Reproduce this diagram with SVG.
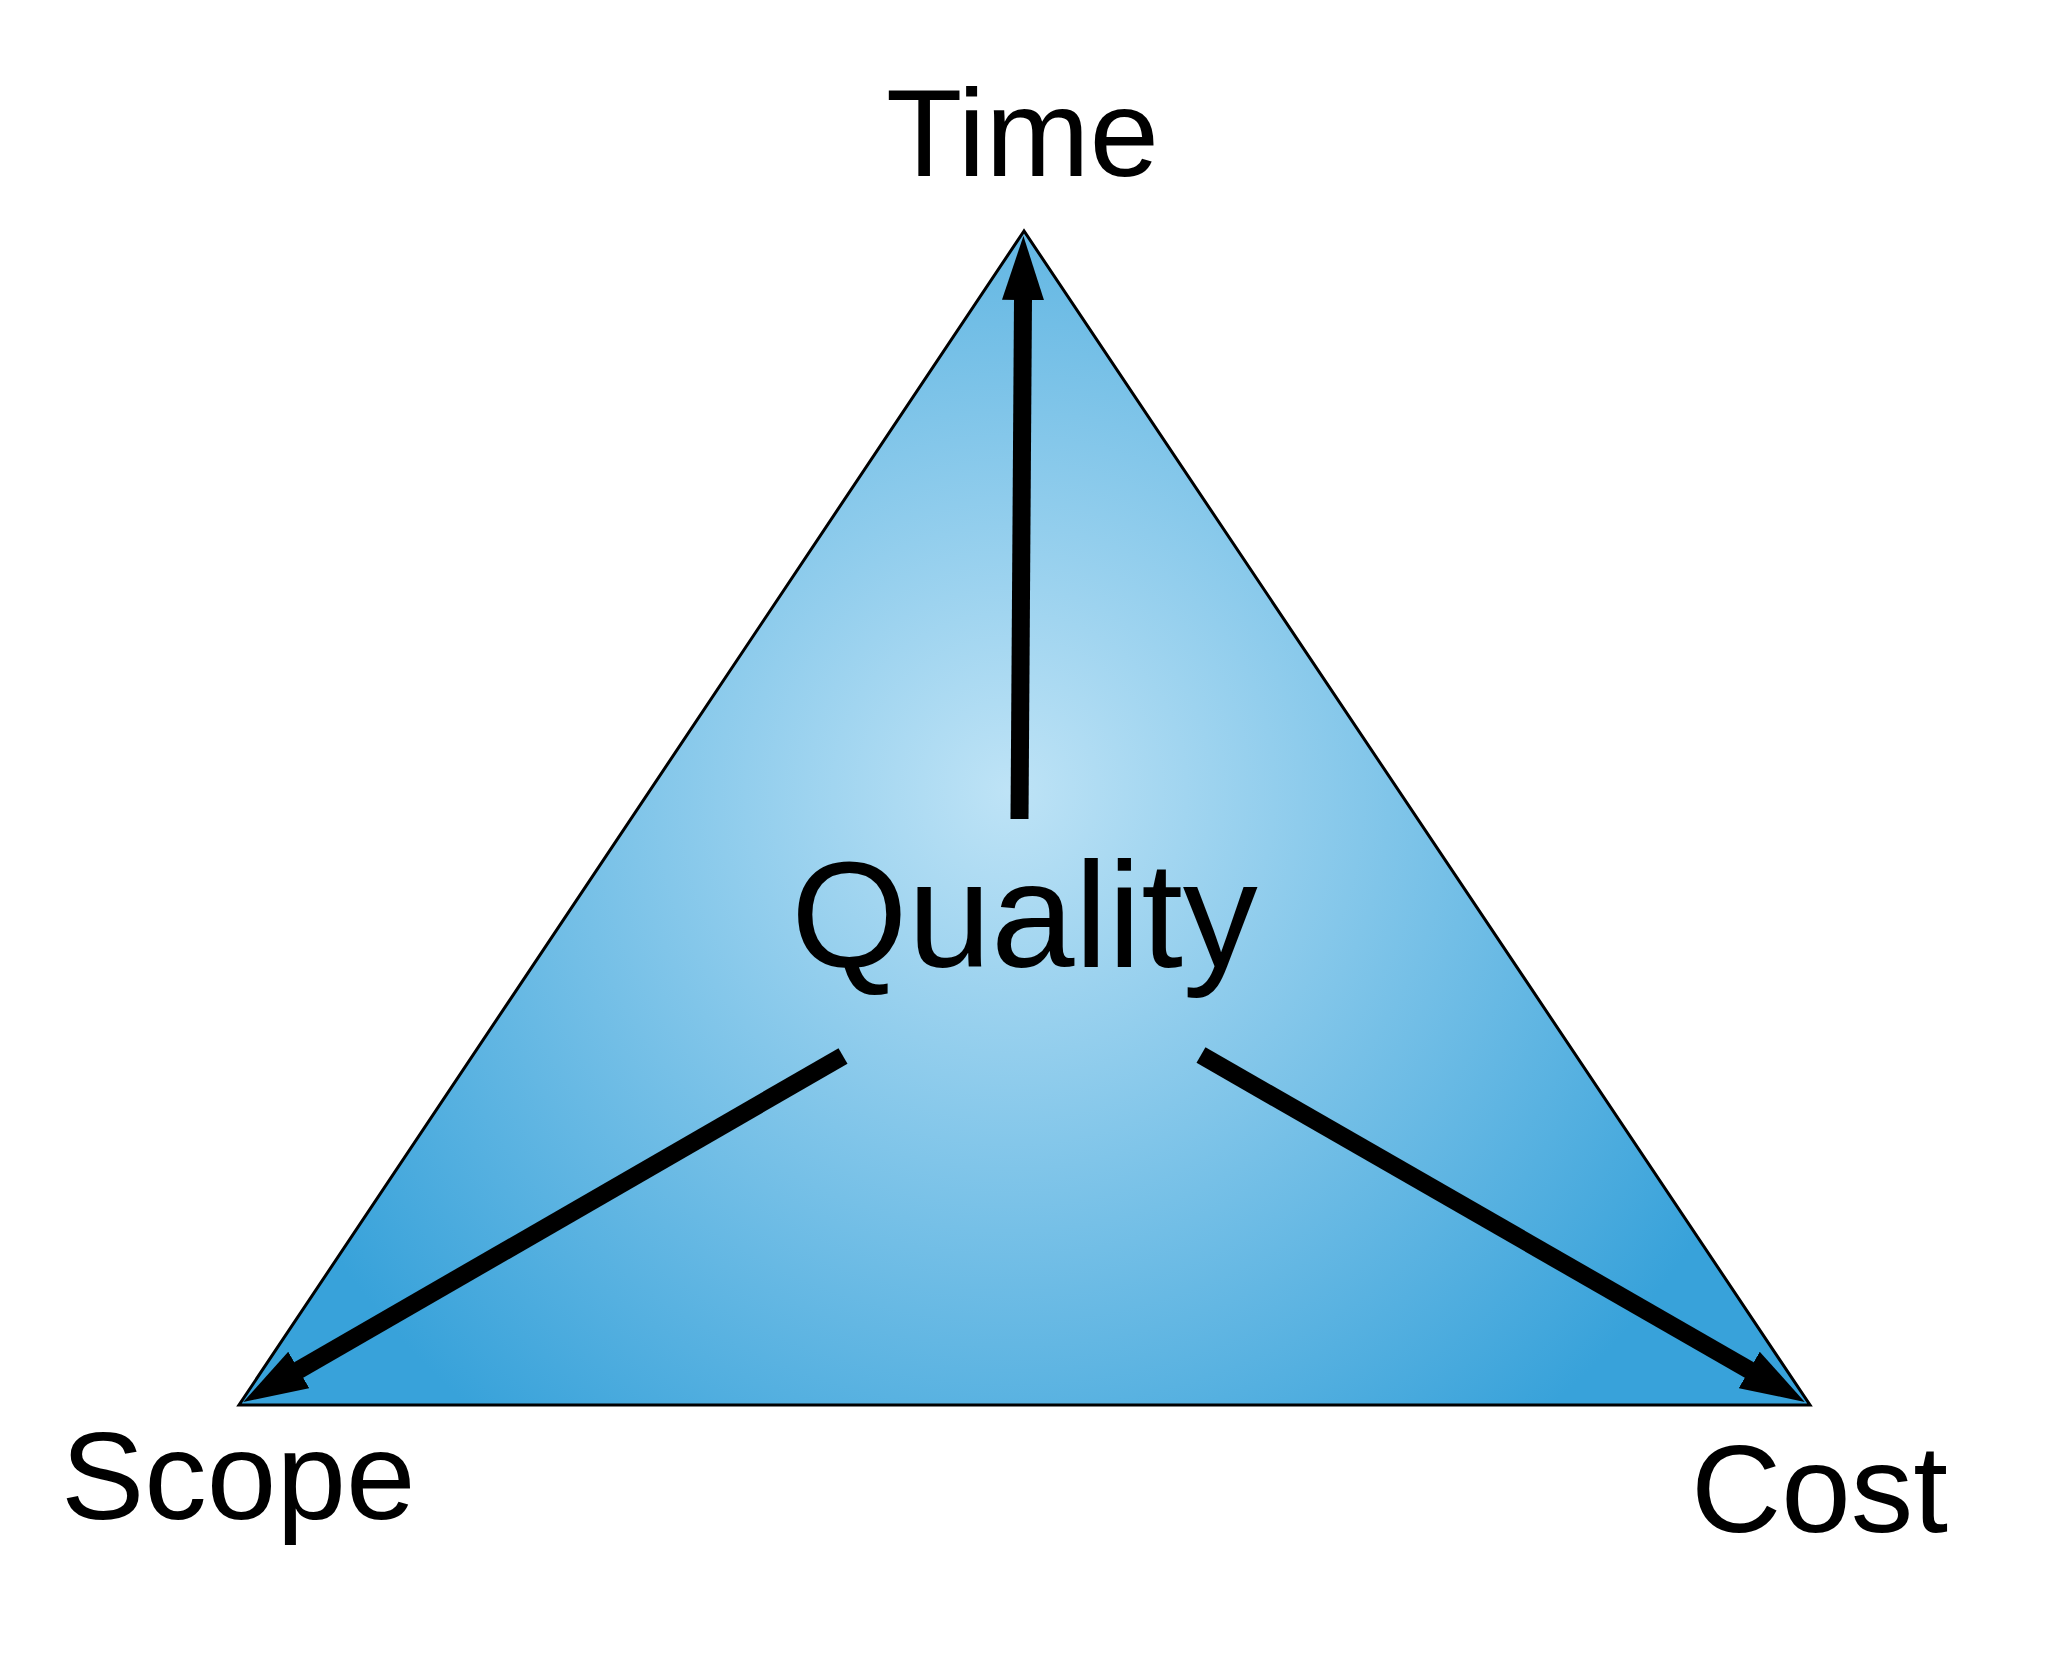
<svg xmlns="http://www.w3.org/2000/svg" width="2064" height="1658" viewBox="0 0 2064 1658">
<style>
.lbl{font-family:"Liberation Sans",Arial,sans-serif;fill:#000;}
.arr{stroke:#000;stroke-width:18;fill:none;stroke-linecap:butt;marker-end:url(#head);}
</style>
<defs>
<radialGradient id="bg" gradientUnits="userSpaceOnUse" cx="1010" cy="790" r="820">
<stop offset="0" stop-color="#bee3f6"/>
<stop offset="1" stop-color="#38a2da"/>
</radialGradient>
<marker id="head" markerUnits="userSpaceOnUse" viewBox="0 -22 66 44" markerWidth="66" markerHeight="44" refX="2" refY="0" orient="auto">
<path d="M0,-21 L64,0 L0,21 Z" fill="#000"/>
</marker>
</defs>
<rect width="2064" height="1658" fill="#fff"/>
<g id="triangle">
<polygon points="1024,231 239,1405 1810,1405" fill="url(#bg)" stroke="#000" stroke-width="3"/>
</g>
<g id="quality">
<text class="lbl" x="791" y="967" font-size="150">Quality</text>
</g>
<g id="time">
<text class="lbl" x="886" y="176" font-size="125">Time</text>
</g>
<g id="scope">
<text class="lbl" x="61" y="1519" font-size="125">Scope</text>
</g>
<g id="cost">
<text class="lbl" x="1691" y="1532" font-size="125">Cost</text>
</g>
<g id="connectors">
<line class="arr" x1="1019.5" y1="819" x2="1023" y2="298"/>
<line class="arr" x1="843" y1="1056" x2="297" y2="1371"/>
<line class="arr" x1="1201" y1="1055" x2="1751" y2="1371"/>
</g>
</svg>
